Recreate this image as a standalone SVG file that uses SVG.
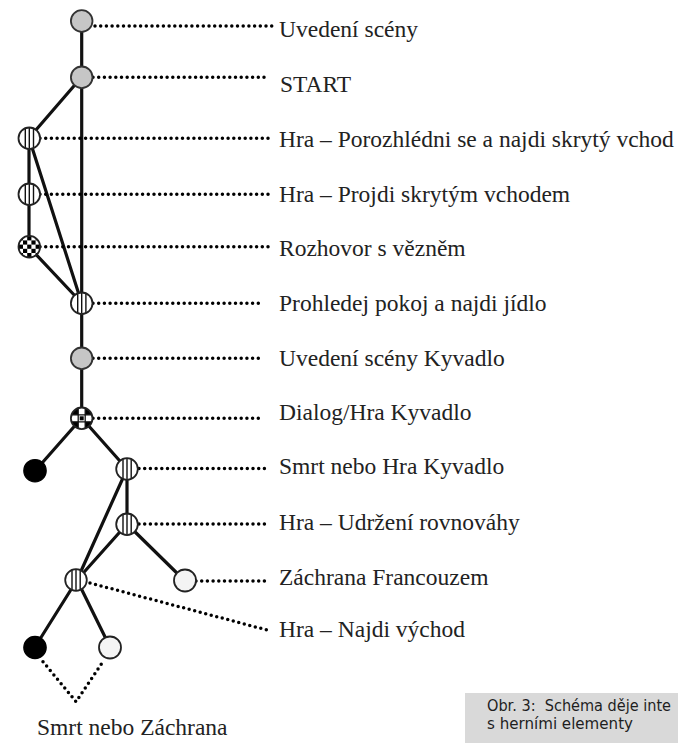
<svg xmlns="http://www.w3.org/2000/svg" width="678" height="743" viewBox="0 0 678 743">
<style>
.edge{stroke:#111;stroke-width:3.2;fill:none;stroke-linecap:round}
.dot{stroke:#000;stroke-width:3.5;fill:none;stroke-dasharray:0 5.7;stroke-linecap:round}
.lbl{font-family:"Liberation Serif","Times New Roman",serif;font-size:23.5px;fill:#222}
.cap{font-family:"DejaVu Sans",sans-serif;font-size:16px;fill:#1e1e1e}
.gray{fill:#c6c6c6;stroke:#333;stroke-width:1.8}
.light{fill:#f4f4f4;stroke:#222;stroke-width:1.8}
.black{fill:#000;stroke:#000;stroke-width:1.2}
.stripe{stroke:#111;stroke-width:1.4}
</style>
<defs>
<clipPath id="cc"><circle r="10.8"/></clipPath>
<g id="striped">
<circle r="10.8" fill="#fff"/>
<line class="stripe" x1="-4" y1="-10" x2="-4" y2="10"/>
<line class="stripe" x1="0" y1="-10.5" x2="0" y2="10.5"/>
<line class="stripe" x1="4.2" y1="-10" x2="4.2" y2="10"/>
<circle r="10.8" fill="none" stroke="#222" stroke-width="1.8"/>
</g>
<g id="checker">
<circle r="10.8" fill="#fff"/>
<g clip-path="url(#cc)" fill="#000">
<rect x="-10.5" y="-10.5" width="4.2" height="4.2"/><rect x="-2.1" y="-10.5" width="4.2" height="4.2"/><rect x="6.3" y="-10.5" width="4.2" height="4.2"/>
<rect x="-6.3" y="-6.3" width="4.2" height="4.2"/><rect x="2.1" y="-6.3" width="4.2" height="4.2"/>
<rect x="-10.5" y="-2.1" width="4.2" height="4.2"/><rect x="-2.1" y="-2.1" width="4.2" height="4.2"/><rect x="6.3" y="-2.1" width="4.2" height="4.2"/>
<rect x="-6.3" y="2.1" width="4.2" height="4.2"/><rect x="2.1" y="2.1" width="4.2" height="4.2"/>
<rect x="-10.5" y="6.3" width="4.2" height="4.2"/><rect x="-2.1" y="6.3" width="4.2" height="4.2"/><rect x="6.3" y="6.3" width="4.2" height="4.2"/>
</g>
<circle r="10.8" fill="none" stroke="#222" stroke-width="1.8"/>
</g>
<g id="grid">
<circle r="10.8" fill="#fff"/>
<g clip-path="url(#cc)">
<rect x="-10.8" y="-10.8" width="7.3" height="7.3" fill="#000"/>
<rect x="3.5" y="-10.8" width="7.3" height="7.3" fill="#000"/>
<rect x="-10.8" y="3.5" width="7.3" height="7.3" fill="#000"/>
<rect x="3.5" y="3.5" width="7.3" height="7.3" fill="#000"/>
<rect x="-2" y="-2" width="4" height="4" fill="#000"/>
<path d="M-3.5 -11V11M3.5 -11V11M-11 -3.5H11M-11 3.5H11" stroke="#111" stroke-width="1.3"/>
</g>
<circle r="10.8" fill="none" stroke="#222" stroke-width="1.8"/>
</g>
</defs>
<g id="connectors">
<path class="edge" d="M81.7 21V418"/>
<path class="edge" d="M81.7 77L29 138"/>
<path class="edge" d="M29 138V247" stroke-width="3.8"/>
<path class="edge" d="M29 138L81.7 303"/>
<path class="edge" d="M29 247L81.7 303"/>
<path class="edge" d="M81.7 418L35 471"/>
<path class="edge" d="M81.7 418L127 469"/>
<path class="edge" d="M127 469V524" stroke-width="3.8"/>
<path class="edge" d="M127 469L77 580"/>
<path class="edge" d="M127 524L77 580"/>
<path class="edge" d="M127 524L185 581"/>
<path class="edge" d="M77 580L35 647"/>
<path class="edge" d="M77 580L110 647"/>
<path class="dot" d="M95 26H272"/>
<path class="dot" d="M93 77.3H266"/>
<path class="dot" d="M40 138.3H272"/>
<path class="dot" d="M40 194.3H272"/>
<path class="dot" d="M40 246.7H271"/>
<path class="dot" d="M93 303.3H263"/>
<path class="dot" d="M93 358.3H263"/>
<path class="dot" d="M93 418.3H263"/>
<path class="dot" d="M139 468.5H268"/>
<path class="dot" d="M139 524H268"/>
<path class="dot" d="M196 581H268"/>
<path class="dot" d="M90 583L267 630"/>
<path class="dot" d="M43 661.7L76 701.7L103 661.7"/>
</g>
<g id="n1"><circle class="gray" cx="81.7" cy="21" r="10.8"/></g>
<g id="n2"><circle class="gray" cx="81.7" cy="77.3" r="10.8"/></g>
<g id="n3"><use href="#striped" x="29.3" y="138.3"/></g>
<g id="n4"><use href="#striped" x="29.3" y="194.3"/></g>
<g id="n5"><use href="#checker" x="29.3" y="246.7"/></g>
<g id="n6"><use href="#striped" x="81.7" y="303.3"/></g>
<g id="n7"><circle class="gray" cx="81.7" cy="358.3" r="10.8"/></g>
<g id="n8"><use href="#grid" x="81.7" y="418.3"/></g>
<g id="n9"><circle class="black" cx="35" cy="470.7" r="11.2"/></g>
<g id="n10"><use href="#striped" x="127" y="469"/></g>
<g id="n11"><use href="#striped" x="127" y="524.3"/></g>
<g id="n12"><circle class="light" cx="185" cy="580.5" r="11"/></g>
<g id="n13"><use href="#striped" x="76" y="580"/></g>
<g id="n14"><circle class="black" cx="35" cy="647.5" r="11.2"/></g>
<g id="n15"><circle class="light" cx="110" cy="647.5" r="11"/></g>
<g id="labels">
<text class="lbl" x="279" y="37">Uvedení scény</text>
<text class="lbl" x="280" y="92">START</text>
<text class="lbl" x="279" y="147">Hra – Porozhlédni se a najdi skrytý vchod</text>
<text class="lbl" x="279" y="202">Hra – Projdi skrytým vchodem</text>
<text class="lbl" x="279" y="256">Rozhovor s vězněm</text>
<text class="lbl" x="279" y="311">Prohledej pokoj a najdi jídlo</text>
<text class="lbl" x="279" y="366">Uvedení scény Kyvadlo</text>
<text class="lbl" x="279" y="420">Dialog/Hra Kyvadlo</text>
<text class="lbl" x="279" y="474">Smrt nebo Hra Kyvadlo</text>
<text class="lbl" x="279" y="530">Hra – Udržení rovnováhy</text>
<text class="lbl" x="279" y="585">Záchrana Francouzem</text>
<text class="lbl" x="279" y="637">Hra – Najdi východ</text>
<text class="lbl" x="37" y="735">Smrt nebo Záchrana</text>
</g>
<g id="caption">
<rect x="465" y="693" width="213" height="50" fill="#d9d9d9"/>
<text class="cap" x="487" y="711" xml:space="preserve" textLength="184" lengthAdjust="spacingAndGlyphs">Obr. 3:  Schéma děje inte</text>
<text class="cap" x="487" y="729" textLength="146" lengthAdjust="spacingAndGlyphs">s herními elementy</text>
</g>
</svg>
